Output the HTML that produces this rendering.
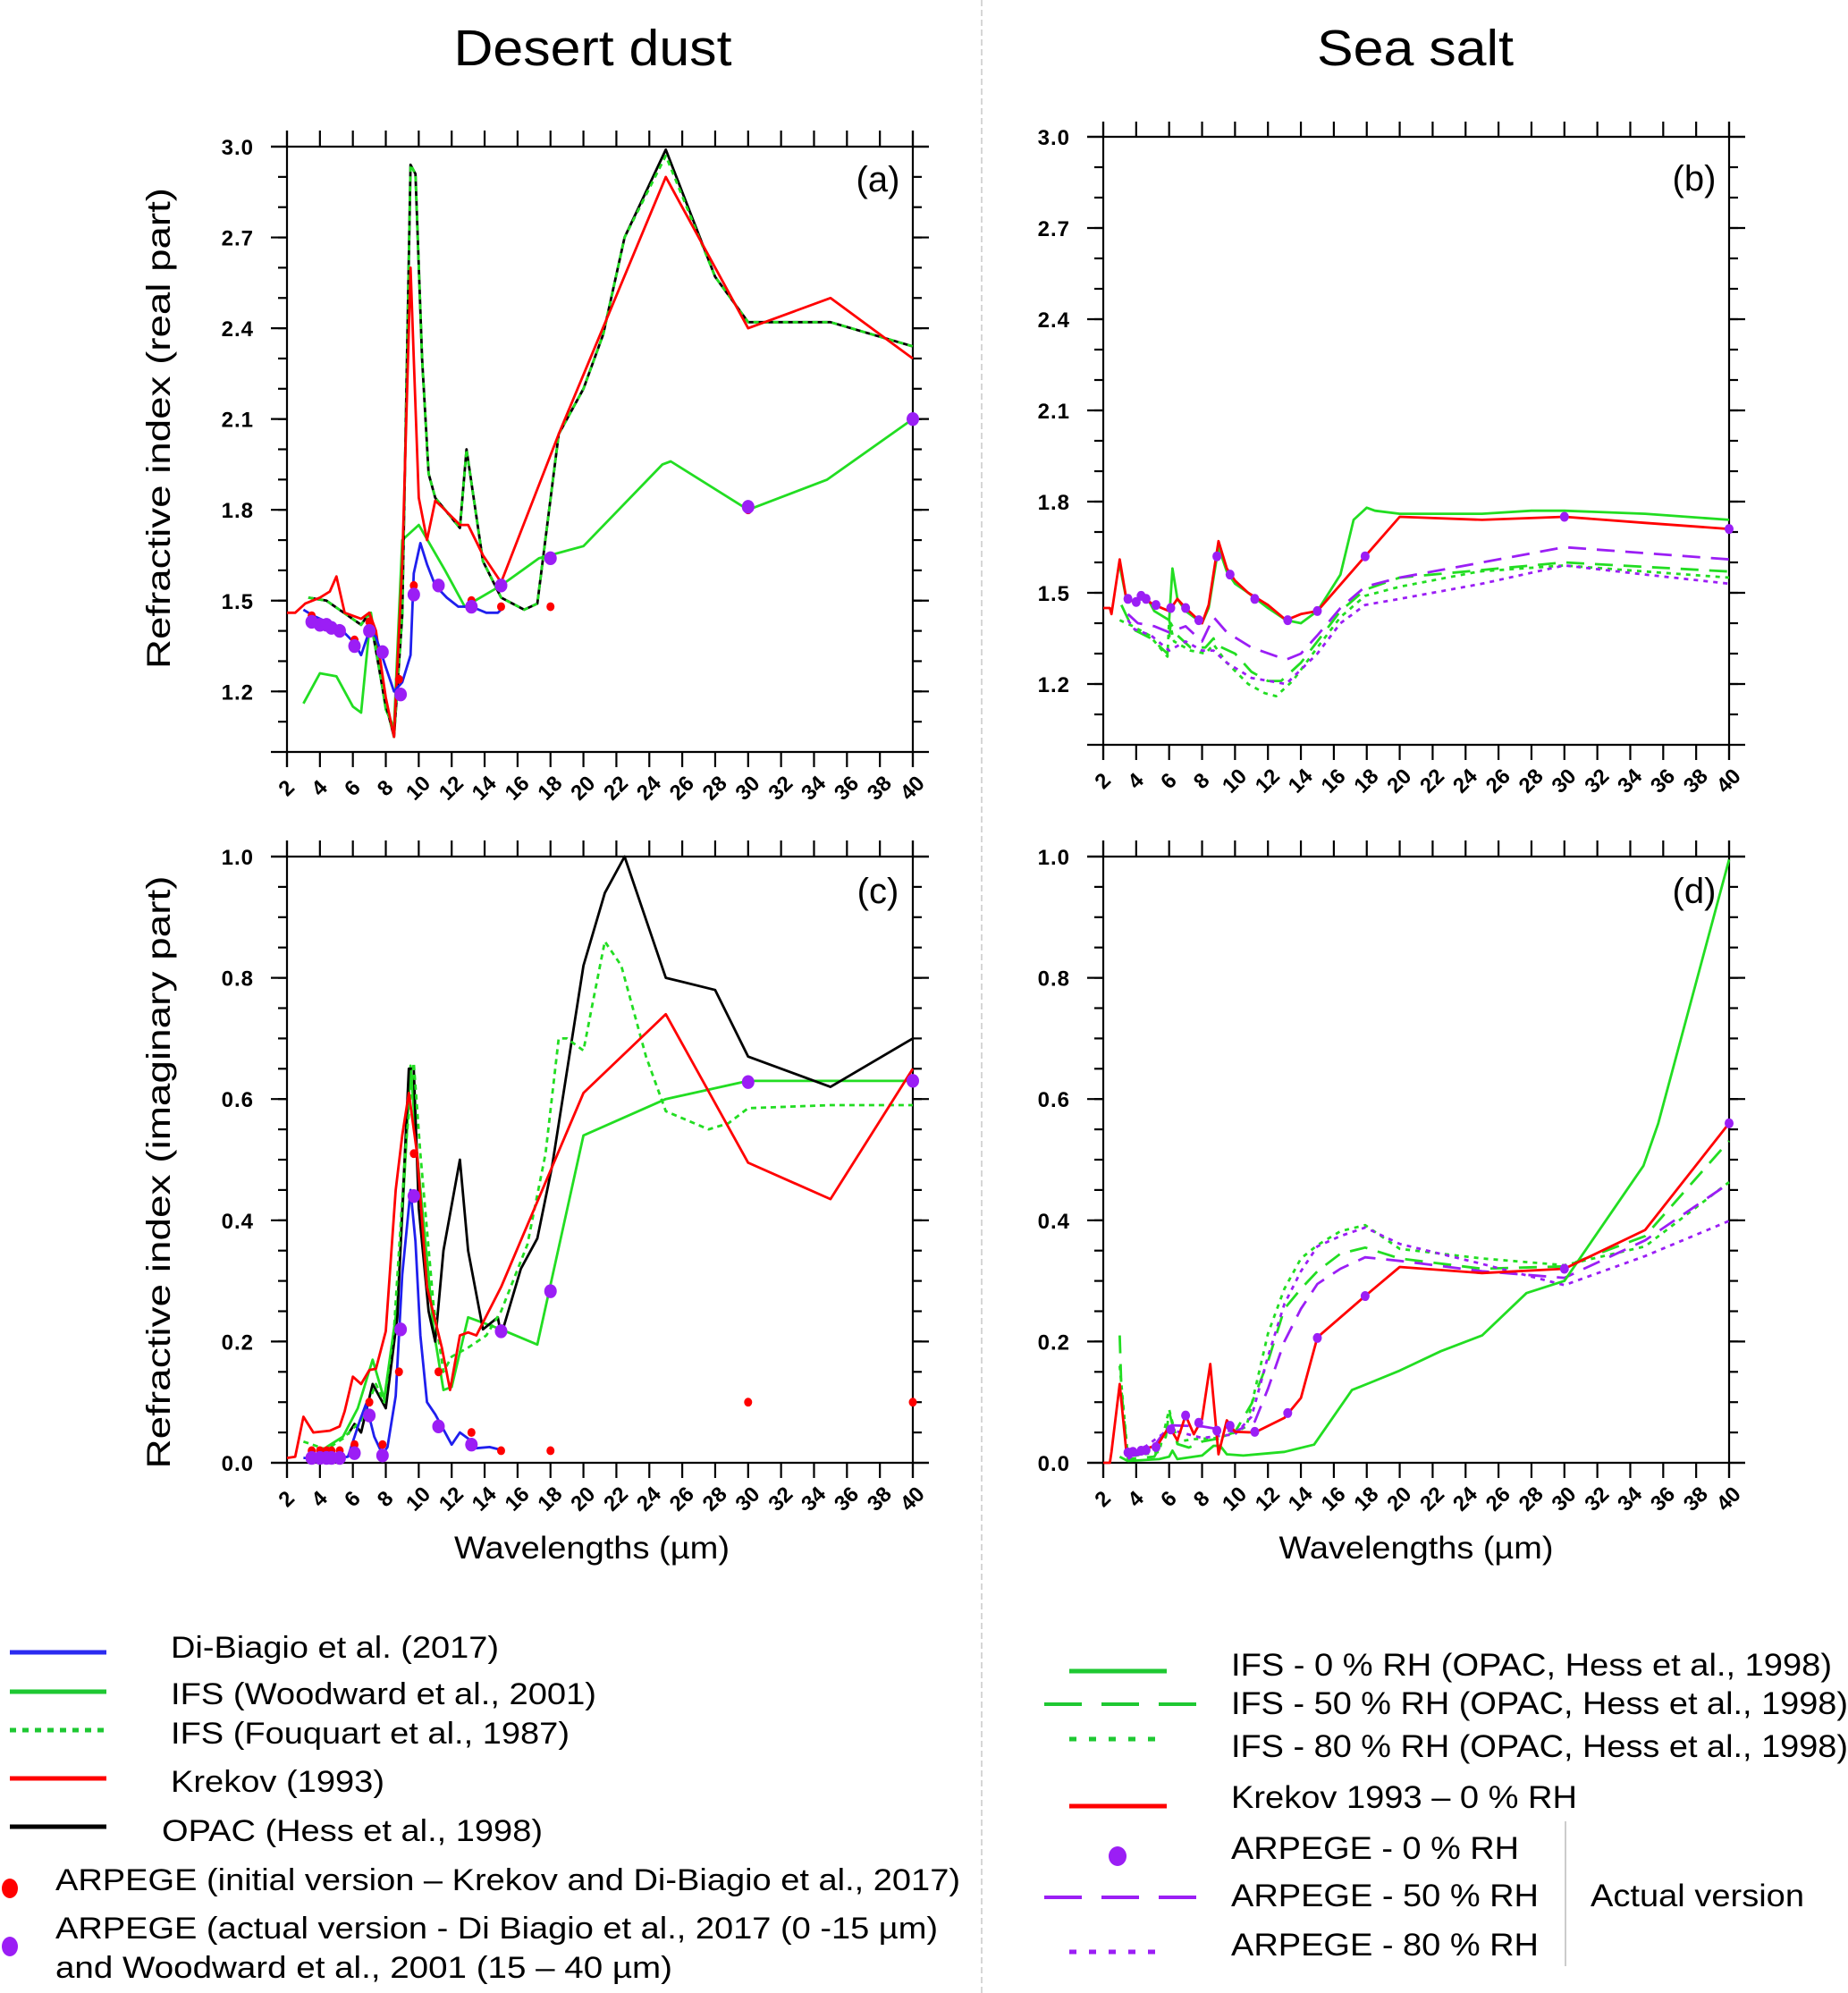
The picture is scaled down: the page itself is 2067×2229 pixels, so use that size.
<!DOCTYPE html>
<html><head><meta charset="utf-8"><title>Refractive index: desert dust and sea salt</title>
<style>html,body{margin:0;padding:0;background:#fff}svg{display:block}text{font-family:"Liberation Sans",Arial,sans-serif;fill:#000}</style>
</head><body>
<svg id="fig" xmlns="http://www.w3.org/2000/svg" width="2067" height="2229" viewBox="0 0 2067 2229">
<rect x="0" y="0" width="2067" height="2229" fill="#fff"/>
<line x1="1098" y1="0" x2="1098" y2="2229" stroke="#c8c8c8" stroke-width="1.5" stroke-dasharray="7,4"/>
<text x="663" y="73" font-size="57" text-anchor="middle" textLength="311" lengthAdjust="spacingAndGlyphs">Desert dust</text>
<text x="1583" y="73" font-size="57" text-anchor="middle" textLength="220" lengthAdjust="spacingAndGlyphs">Sea salt</text>
<text transform="translate(190,479) rotate(-90)" font-size="37" text-anchor="middle" textLength="538" lengthAdjust="spacingAndGlyphs">Refractive index (real part)</text>
<text transform="translate(190,1311) rotate(-90)" font-size="37" text-anchor="middle" textLength="663" lengthAdjust="spacingAndGlyphs">Refractive index (imaginary part)</text>
<text x="662" y="1743" font-size="35" text-anchor="middle" textLength="308" lengthAdjust="spacingAndGlyphs">Wavelengths (µm)</text>
<text x="1584" y="1743" font-size="35" text-anchor="middle" textLength="307" lengthAdjust="spacingAndGlyphs">Wavelengths (µm)</text>

<g id="legend-left">
<line x1="11" y1="1848" x2="119" y2="1848" stroke="#2b2bf0" stroke-width="5"/>
<text x="191" y="1854" font-size="34" textLength="367" lengthAdjust="spacingAndGlyphs">Di-Biagio et al. (2017)</text>
<line x1="11" y1="1892" x2="119" y2="1892" stroke="#1ec832" stroke-width="5"/>
<text x="191" y="1906" font-size="34" textLength="476" lengthAdjust="spacingAndGlyphs">IFS (Woodward et al., 2001)</text>
<line x1="11" y1="1935" x2="119" y2="1935" stroke="#1ec832" stroke-width="5" stroke-dasharray="7,7"/>
<text x="191" y="1950" font-size="34" textLength="446" lengthAdjust="spacingAndGlyphs">IFS (Fouquart et al., 1987)</text>
<line x1="11" y1="1989" x2="119" y2="1989" stroke="#f00" stroke-width="5"/>
<text x="191" y="2004" font-size="34" textLength="239" lengthAdjust="spacingAndGlyphs">Krekov (1993)</text>
<line x1="11" y1="2043" x2="119" y2="2043" stroke="#000" stroke-width="5"/>
<text x="181" y="2059" font-size="34" textLength="426" lengthAdjust="spacingAndGlyphs">OPAC (Hess et al., 1998)</text>
<ellipse cx="11" cy="2112" rx="9" ry="11" fill="#f00"/>
<text x="62" y="2114" font-size="34" textLength="1012" lengthAdjust="spacingAndGlyphs">ARPEGE (initial version – Krekov and Di-Biagio et al., 2017)</text>
<ellipse cx="11" cy="2177" rx="9" ry="11" fill="#9b1ef5"/>
<text x="62" y="2168" font-size="34" textLength="987" lengthAdjust="spacingAndGlyphs">ARPEGE (actual version - Di Biagio et al., 2017 (0 -15 µm)</text>
<text x="62" y="2212" font-size="34" textLength="690" lengthAdjust="spacingAndGlyphs">and  Woodward et al., 2001 (15 – 40 µm)</text>
</g>

<g id="legend-right">
<line x1="1196" y1="1869" x2="1305" y2="1869" stroke="#1ec832" stroke-width="5"/>
<text x="1377" y="1874" font-size="35" textLength="672" lengthAdjust="spacingAndGlyphs">IFS - 0 % RH (OPAC, Hess et al., 1998)</text>
<line x1="1168" y1="1906" x2="1340" y2="1906" stroke="#1ec832" stroke-width="4" stroke-dasharray="42,22"/>
<text x="1377" y="1917" font-size="35" textLength="690" lengthAdjust="spacingAndGlyphs">IFS - 50 % RH (OPAC, Hess et al., 1998)</text>
<line x1="1196" y1="1945" x2="1305" y2="1945" stroke="#1ec832" stroke-width="5" stroke-dasharray="8,14"/>
<text x="1377" y="1965" font-size="35" textLength="690" lengthAdjust="spacingAndGlyphs">IFS - 80 % RH (OPAC, Hess et al., 1998)</text>
<line x1="1196" y1="2020" x2="1305" y2="2020" stroke="#f00" stroke-width="5"/>
<text x="1377" y="2022" font-size="35" textLength="387" lengthAdjust="spacingAndGlyphs">Krekov 1993 – 0 % RH</text>
<ellipse cx="1250" cy="2076" rx="10" ry="11" fill="#9b1ef5"/>
<text x="1377" y="2079" font-size="35" textLength="322" lengthAdjust="spacingAndGlyphs">ARPEGE - 0 % RH</text>
<line x1="1168" y1="2122" x2="1340" y2="2122" stroke="#9b1ef5" stroke-width="4" stroke-dasharray="42,22"/>
<text x="1377" y="2132" font-size="35" textLength="344" lengthAdjust="spacingAndGlyphs">ARPEGE - 50 % RH</text>
<line x1="1196" y1="2183" x2="1305" y2="2183" stroke="#9b1ef5" stroke-width="5" stroke-dasharray="8,14"/>
<text x="1377" y="2187" font-size="35" textLength="344" lengthAdjust="spacingAndGlyphs">ARPEGE - 80 % RH</text>
<line x1="1751" y1="2037" x2="1751" y2="2199" stroke="#bbb" stroke-width="1.5"/>
<text x="1779" y="2132" font-size="35" textLength="239" lengthAdjust="spacingAndGlyphs">Actual version</text>
</g>
</svg>
<script>
const xTicks=[2,4,6,8,10,12,14,16,18,20,22,24,26,28,30,32,34,36,38,40];
const realTicks=[1.2,1.5,1.8,2.1,2.4,2.7,3.0];
const realTickLabels=["1.2","1.5","1.8","2.1","2.4","2.7","3.0"];
const imagTicks=[0,0.2,0.4,0.6,0.8,1.0];
const imagTickLabels=["0.0","0.2","0.4","0.6","0.8","1.0"];

const aOpacX=[3.3,4.4,6.5,7,7.9,8.5,9.0,9.5,9.8,10.2,10.6,11.0,12.5,12.9,13.9,15,16.4,17.2,18.5,20,21.2,22.5,25,28,30,35,40];
const aOpacY=[1.51,1.50,1.42,1.46,1.18,1.05,1.45,2.94,2.91,2.30,1.92,1.84,1.74,2.0,1.63,1.51,1.47,1.49,2.05,2.20,2.38,2.70,2.99,2.57,2.42,2.42,2.34];
const aFouqX=[3.3,4.4,6.5,7,7.9,8.5,9.0,9.5,9.8,10.2,10.6,11.0,12.5,12.9,13.9,15,16.4,17.2,18.5,20,21.2,22.5,25,28,30,35,40];
const aFouqY=[1.51,1.50,1.42,1.46,1.18,1.05,1.45,2.94,2.91,2.30,1.92,1.84,1.74,2.0,1.63,1.51,1.47,1.49,2.05,2.20,2.38,2.70,2.97,2.57,2.42,2.42,2.34];
const aKrekX=[2,2.5,3.1,4,4.6,5.0,5.5,6.5,7,7.4,8,8.5,9,9.5,9.7,10,10.5,11,11.4,12.5,13,13.9,15,18.5,25,30,35,40];
const aKrekY=[1.46,1.46,1.49,1.51,1.53,1.58,1.46,1.44,1.46,1.40,1.18,1.05,1.62,2.60,2.30,1.84,1.70,1.83,1.81,1.75,1.75,1.65,1.56,2.05,2.90,2.40,2.50,2.30];
const aWoodX=[3,4,5,6,6.5,7.1,8,8.5,9,10,11.6,12.8,15,17.3,20,24.8,25.3,30,34.8,40];
const aWoodY=[1.16,1.26,1.25,1.15,1.13,1.46,1.14,1.08,1.70,1.75,1.60,1.48,1.55,1.64,1.68,1.95,1.96,1.80,1.90,2.10];
const aDiBX=[3,3.6,5.2,6.1,6.5,7,7.4,8,8.5,9,9.5,9.7,10.1,10.5,11,11.7,12.4,13.2,14.1,14.8,15];
const aDiBY=[1.47,1.45,1.41,1.36,1.32,1.40,1.38,1.28,1.20,1.23,1.32,1.59,1.69,1.62,1.55,1.51,1.48,1.48,1.46,1.46,1.47];
const aInitX=[3.5,6.1,7,8.8,9.7,13.2,15,18,30];
const aInitY=[1.45,1.37,1.43,1.24,1.55,1.50,1.48,1.48,1.80];
const aActX=[3.5,4,4.4,4.7,5.2,6.1,7,7.8,8.9,9.7,11.2,13.2,15,18,30,40];
const aActY=[1.43,1.42,1.42,1.41,1.40,1.35,1.40,1.33,1.19,1.52,1.55,1.48,1.55,1.64,1.81,2.10];

const cOpacX=[5.7,6.1,6.5,7.2,8,8.7,9.4,9.7,10,10.6,11,11.5,12.5,13,13.9,14.8,15,16.2,17.2,18.1,20,21.3,22.5,25,28,30,35,40];
const cOpacY=[0.047,0.064,0.05,0.13,0.09,0.24,0.65,0.65,0.42,0.25,0.20,0.35,0.50,0.35,0.22,0.24,0.21,0.32,0.37,0.49,0.82,0.94,1.0,0.80,0.78,0.67,0.62,0.70];
const cFouqX=[3,4.4,5.4,6.5,7.4,7.9,8.5,9.2,9.7,10.1,10.9,11.5,12,13,14.1,15,16.6,17.7,18.5,19,20,20.5,21.3,22.3,23.8,25,27.6,28.8,30,35,40];
const cFouqY=[0.035,0.022,0.04,0.07,0.13,0.10,0.22,0.52,0.66,0.51,0.26,0.15,0.175,0.19,0.21,0.25,0.36,0.51,0.70,0.70,0.68,0.75,0.86,0.82,0.67,0.58,0.55,0.56,0.585,0.59,0.59];
const cWoodX=[4.4,5.4,6.3,7.2,7.9,8.7,9.5,9.9,10.9,11.5,12,13,15,17.2,20,25,30,40];
const cWoodY=[0.026,0.043,0.09,0.17,0.105,0.26,0.655,0.51,0.22,0.12,0.125,0.24,0.22,0.195,0.54,0.60,0.63,0.63];
const cKrekX=[2,2.5,3,3.6,4.6,5.2,5.5,6,6.5,7,7.4,8,8.6,9,9.4,9.9,10.5,11.4,11.9,12.5,13,13.5,15,20,25,30,35,40];
const cKrekY=[0.008,0.01,0.076,0.05,0.053,0.06,0.085,0.142,0.13,0.153,0.155,0.217,0.45,0.54,0.61,0.51,0.29,0.19,0.12,0.21,0.215,0.21,0.29,0.61,0.74,0.495,0.435,0.65];
const cDiBX=[3,3.6,5.2,5.7,6.4,6.8,7.3,7.8,8.1,8.6,9,9.5,9.8,10.1,10.5,11,11.5,12,12.5,13,13.5,14.3,14.9];
const cDiBY=[0.008,0.008,0.008,0.01,0.068,0.097,0.043,0.014,0.026,0.11,0.31,0.45,0.365,0.21,0.10,0.08,0.055,0.03,0.05,0.04,0.024,0.026,0.022];
const cInitX=[3.5,4,4.4,4.7,5.2,6.1,7,7.8,8.8,9.7,11.2,13.2,15,18,30,40];
const cInitY=[0.02,0.02,0.02,0.02,0.02,0.03,0.10,0.03,0.15,0.51,0.15,0.05,0.02,0.02,0.10,0.10];
const cActX=[3.5,4,4.4,4.7,5.2,6.1,7,7.8,8.9,9.7,11.2,13.2,15,18,30,40];
const cActY=[0.008,0.008,0.008,0.008,0.008,0.016,0.078,0.012,0.22,0.44,0.06,0.03,0.217,0.283,0.628,0.63];

const bKrekX=[2,2.4,2.5,3,3.4,3.9,4.4,4.8,5.1,6.0,6.5,7,8,8.4,9,9.5,10,10.8,12,13.1,14,15,17.9,20,25,30,34.9,40];
const bKrekY=[1.45,1.45,1.43,1.61,1.48,1.47,1.49,1.47,1.46,1.44,1.48,1.45,1.40,1.46,1.67,1.58,1.54,1.50,1.46,1.41,1.43,1.44,1.62,1.75,1.74,1.75,1.73,1.71];
const bIfs0X=[3,3.4,3.9,4.4,4.8,5.1,6.0,6.2,6.5,7,8,8.4,9,9.5,10,10.8,12,13.1,14,15,16.4,17.2,18,18.5,20,25,28,30,34.9,40];
const bIfs0Y=[1.59,1.48,1.47,1.49,1.47,1.44,1.41,1.58,1.48,1.44,1.40,1.45,1.65,1.57,1.53,1.50,1.45,1.41,1.40,1.44,1.56,1.74,1.78,1.77,1.76,1.76,1.77,1.77,1.76,1.74];
const bIfs50X=[3.1,3.8,4.9,5.9,6.1,6.5,7.3,8.2,8.7,8.8,10,11,12,12.8,14,15,16.4,17.9,20,30,40];
const bIfs50Y=[1.46,1.38,1.35,1.30,1.40,1.36,1.32,1.32,1.35,1.33,1.30,1.24,1.21,1.21,1.27,1.34,1.44,1.51,1.55,1.60,1.57];
const bIfs80X=[3,3.8,4.8,5.9,6.0,6.3,7.3,8.2,8.7,9.5,10.8,11.8,12.5,13.5,15,16.4,17.9,20,24.8,30,34.9,40];
const bIfs80Y=[1.41,1.39,1.36,1.29,1.41,1.34,1.31,1.30,1.33,1.27,1.20,1.17,1.16,1.21,1.32,1.42,1.49,1.52,1.57,1.59,1.57,1.55];
const bArp50X=[3.5,4.1,5.1,6,7,8,8.7,9.5,11,13.1,14,15,16.4,17.9,20,25,30,40];
const bArp50Y=[1.43,1.40,1.39,1.37,1.39,1.34,1.42,1.37,1.32,1.28,1.30,1.36,1.45,1.52,1.55,1.60,1.65,1.61];
const bArp80X=[3.5,3.9,4.9,6,7,8,8.7,9.5,11,13.1,15,16.4,17.9,20,25,30,34.9,40];
const bArp80Y=[1.41,1.38,1.36,1.31,1.34,1.31,1.31,1.27,1.22,1.20,1.30,1.40,1.46,1.48,1.53,1.59,1.56,1.53];
const bArp0X=[3.5,4,4.3,4.6,5.2,6.1,7,7.8,8.9,9.7,11.2,13.2,15,17.9,30,40];
const bArp0Y=[1.48,1.47,1.49,1.48,1.46,1.45,1.45,1.41,1.62,1.56,1.48,1.41,1.44,1.62,1.75,1.71];

const dKrekX=[2,2.4,2.5,3,3.4,3.8,4.8,5.3,6,6.5,7,7.5,8,8.5,9,9.5,10,11.2,13,14,15,17.9,20,25,30,34.9,40];
const dKrekY=[0,0,0.018,0.13,0.018,0.016,0.025,0.029,0.06,0.037,0.078,0.047,0.072,0.163,0.014,0.07,0.051,0.05,0.074,0.107,0.207,0.275,0.323,0.313,0.32,0.384,0.56];
const dIfs0X=[3,3.5,5.4,6,6.2,6.5,8,8.7,9.1,9.5,10.5,13,14.8,17.1,18.2,20,22.5,25,27.7,30,34.8,35.7,40];
const dIfs0Y=[0.01,0.003,0.006,0.01,0.02,0.006,0.012,0.028,0.028,0.014,0.012,0.018,0.03,0.12,0.132,0.152,0.184,0.21,0.28,0.30,0.49,0.56,0.995];
const dIfs50X=[3,3.1,3.5,5.1,5.8,6,6.5,7.2,8,9,10,11,12,13,14,15,16.4,17.9,20,25,30,34.9,40];
const dIfs50Y=[0.21,0.12,0.006,0.01,0.043,0.084,0.031,0.025,0.035,0.04,0.051,0.097,0.167,0.254,0.287,0.316,0.345,0.355,0.337,0.32,0.324,0.374,0.531];
const dIfs80X=[3,3.5,5.4,6,6.5,7.5,9,10,10.7,12,13,14,15,16.4,17.9,20,25,30,34.9,40];
const dIfs80Y=[0.16,0.01,0.018,0.088,0.035,0.039,0.041,0.05,0.06,0.213,0.287,0.337,0.359,0.382,0.392,0.353,0.337,0.326,0.357,0.463];
const dArp50X=[3.5,4.8,6,8,10,11.2,12,13,14,15,16.4,17.9,20,25,30,34.9,40];
const dArp50Y=[0.01,0.017,0.062,0.06,0.051,0.068,0.122,0.2,0.254,0.295,0.32,0.339,0.333,0.316,0.305,0.367,0.461];
const dArp80X=[3.5,6,8,10,11,12,13,14,15,16.4,17.9,20,25,30,34.9,40];
const dArp80Y=[0.006,0.055,0.041,0.047,0.076,0.175,0.262,0.316,0.357,0.374,0.388,0.361,0.328,0.293,0.341,0.399];
const dArp0X=[3.5,3.8,4.3,4.6,5.2,6.1,7,7.8,8.9,9.7,11.2,13.2,15,17.9,30,40];
const dArp0Y=[0.017,0.018,0.02,0.021,0.026,0.055,0.078,0.066,0.053,0.061,0.051,0.082,0.206,0.275,0.32,0.56];

const NS='http://www.w3.org/2000/svg';
const svg=document.getElementById('fig');
const GREEN='#22dd22', RED='#ff0000', BLUE='#1f1fee', PURPLE='#9b1ef5', BLACK='#000';

function mk(tag,attrs,parent){const e=document.createElementNS(NS,tag);for(const k in attrs)e.setAttribute(k,attrs[k]);(parent||svg).appendChild(e);return e;}

function axes(p){
  const sx=w=>p.x0+(w-2)/38*(p.x1-p.x0);
  const sy=v=>p.yB-(v-p.vmin)/(p.vmax-p.vmin)*(p.yB-p.yT);
  p.sx=sx;p.sy=sy;
  const g=mk('g',{});
  
  
  p.g=g;
  const lc={stroke:'#000','stroke-width':2.2,fill:'none'};
  let e=mk('line',Object.assign({x1:p.x0,y1:p.tT,x2:p.x0,y2:p.yB+17},lc),g);
  
  
  e=mk('line',Object.assign({x1:p.x1,y1:p.tT,x2:p.x1,y2:p.yB+17},lc),g);
  
  
  e=mk('line',Object.assign({x1:p.x0-18,y1:p.yT,x2:p.x1+18,y2:p.yT},lc),g);
  
  
  e=mk('line',Object.assign({x1:p.x0-18,y1:p.yB,x2:p.x1+18,y2:p.yB},lc),g);
  
  
  xTicks.forEach(t=>{
    const x=sx(t);
    let l=mk('line',Object.assign({x1:x,y1:p.tT,x2:x,y2:p.yT},lc),g);
    
    
    l=mk('line',Object.assign({x1:x,y1:p.yB,x2:x,y2:p.yB+17},lc),g);
    
    
    const tx=mk('text',{transform:`translate(${x+5},${p.yB+46}) rotate(-45)`,'font-size':24,'font-weight':'bold','text-anchor':'middle'},g);
    tx.textContent=String(t);
    
    
  });
  for(let v=p.vmin+p.minor;v<p.vmax-1e-9;v+=p.minor){
    const y=sy(v);
    let l=mk('line',Object.assign({x1:p.x0-10,y1:y,x2:p.x0,y2:y},lc),g);
    
    
    l=mk('line',Object.assign({x1:p.x1,y1:y,x2:p.x1+10,y2:y},lc),g);
    
    
  }
  p.ticks.forEach((v,i)=>{
    const y=sy(v);
    let l=mk('line',Object.assign({x1:p.x0-18,y1:y,x2:p.x0,y2:y},lc),g);
    
    
    l=mk('line',Object.assign({x1:p.x1,y1:y,x2:p.x1+18,y2:y},lc),g);
    
    
    const tx=mk('text',{x:p.x0-37,y:y+9,'font-size':24,'font-weight':'bold','text-anchor':'end','letter-spacing':'1'},g);
    tx.textContent=p.labels[i];
    
    
  });
  const pl=mk('text',{x:p.x1-39,y:p.labY,'font-size':40,'text-anchor':'middle'},g);
  pl.textContent='('+p.id+')';
  
  
}

function series(p,xs,ys,color,dash,name,w){
  const pts=xs.map((x,i)=>p.sx(x).toFixed(1)+','+p.sy(ys[i]).toFixed(1)).join(' ');
  const e=mk('polyline',{points:pts,fill:'none',stroke:color,'stroke-width':w||2.8,'stroke-linejoin':'round','stroke-dasharray':dash||'none'},p.g);
  
  
}
function dots(p,xs,ys,color,r,name){
  xs.forEach((x,i)=>{
    const e=mk('ellipse',{cx:p.sx(x),cy:p.sy(ys[i]),rx:r,ry:r*1.1,fill:color},p.g);
    
    
  });
}

const PA={id:'a',x0:321,x1:1021,yT:164,yB:841,tT:146,vmin:1,vmax:3,minor:0.1,ticks:realTicks,labels:realTickLabels,labY:214};
const PB={id:'b',x0:1234,x1:1934,yT:153,yB:833,tT:136,vmin:1,vmax:3,minor:0.1,ticks:realTicks,labels:realTickLabels,labY:213};
const PC={id:'c',x0:321,x1:1021,yT:958,yB:1636,tT:940,vmin:0,vmax:1,minor:0.05,ticks:imagTicks,labels:imagTickLabels,labY:1010};
const PD={id:'d',x0:1234,x1:1934,yT:958,yB:1636,tT:940,vmin:0,vmax:1,minor:0.05,ticks:imagTicks,labels:imagTickLabels,labY:1010};
[PA,PB,PC,PD].forEach(axes);

series(PA,aWoodX,aWoodY,GREEN,null,'line-ifs-woodward');
series(PA,aOpacX,aOpacY,BLACK,null,'line-opac');
series(PA,aFouqX,aFouqY,GREEN,'6,5','line-ifs-fouquart');
series(PA,aKrekX,aKrekY,RED,null,'line-krekov');
series(PA,aDiBX,aDiBY,BLUE,null,'line-dibiagio');
dots(PA,aInitX,aInitY,RED,4.5,'marker-arpege-initial');
dots(PA,aActX,aActY,PURPLE,7,'marker-arpege-actual');

series(PC,cWoodX,cWoodY,GREEN,null,'line-ifs-woodward');
series(PC,cOpacX,cOpacY,BLACK,null,'line-opac');
series(PC,cFouqX,cFouqY,GREEN,'6,5','line-ifs-fouquart');
series(PC,cKrekX,cKrekY,RED,null,'line-krekov');
series(PC,cDiBX,cDiBY,BLUE,null,'line-dibiagio');
dots(PC,cInitX,cInitY,RED,4.5,'marker-arpege-initial');
dots(PC,cActX,cActY,PURPLE,7,'marker-arpege-actual');

series(PB,bIfs80X,bIfs80Y,GREEN,'5,6','line-ifs-80rh');
series(PB,bIfs50X,bIfs50Y,GREEN,'20,12','line-ifs-50rh');
series(PB,bArp80X,bArp80Y,PURPLE,'5,6','line-arpege-80rh');
series(PB,bArp50X,bArp50Y,PURPLE,'20,12','line-arpege-50rh');
series(PB,bIfs0X,bIfs0Y,GREEN,null,'line-ifs-0rh');
series(PB,bKrekX,bKrekY,RED,null,'line-krekov-0rh');
dots(PB,bArp0X,bArp0Y,PURPLE,5,'marker-arpege-0rh');

series(PD,dIfs80X,dIfs80Y,GREEN,'5,6','line-ifs-80rh');
series(PD,dIfs50X,dIfs50Y,GREEN,'20,12','line-ifs-50rh');
series(PD,dArp80X,dArp80Y,PURPLE,'5,6','line-arpege-80rh');
series(PD,dArp50X,dArp50Y,PURPLE,'20,12','line-arpege-50rh');
series(PD,dIfs0X,dIfs0Y,GREEN,null,'line-ifs-0rh');
series(PD,dKrekX,dKrekY,RED,null,'line-krekov-0rh');
dots(PD,dArp0X,dArp0Y,PURPLE,5,'marker-arpege-0rh');
</script>
</body></html>
